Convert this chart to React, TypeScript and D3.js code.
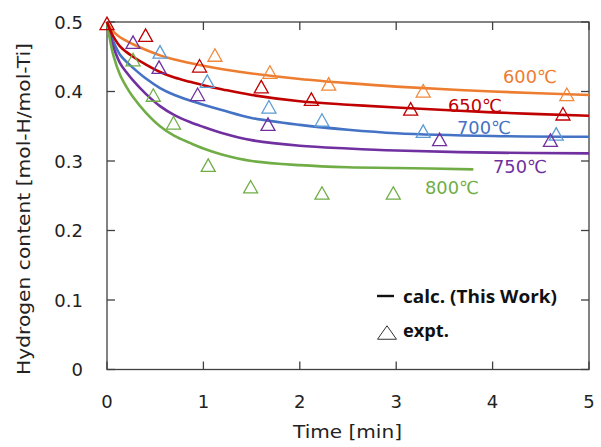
import * as d3 from 'd3';
import { useEffect, useRef } from 'react';

// calculated curves (time in min, hydrogen content)
const calcTime = [0, 0.03, 0.066, 0.135, 0.2, 0.27, 0.4, 0.55, 0.7, 0.86, 1.0, 1.2, 1.5, 2, 2.5, 3, 4, 5];
const calcTime800 = [0, 0.03, 0.066, 0.135, 0.2, 0.27, 0.4, 0.55, 0.7, 0.86, 1.0, 1.2, 1.5, 2, 2.5, 3, 3.8];
const calc600 = [0.5, 0.493, 0.486, 0.478, 0.473, 0.468, 0.46, 0.452, 0.446, 0.441, 0.437, 0.432, 0.426, 0.418, 0.412, 0.407, 0.4, 0.395];
const calc650 = [0.5, 0.489, 0.479, 0.465, 0.457, 0.45, 0.439, 0.428, 0.42, 0.414, 0.409, 0.403, 0.395, 0.386, 0.381, 0.377, 0.37, 0.365];
const calc700 = [0.5, 0.485, 0.472, 0.453, 0.443, 0.434, 0.419, 0.405, 0.395, 0.387, 0.381, 0.373, 0.362, 0.352, 0.345, 0.34, 0.336, 0.335];
const calc750 = [0.5, 0.481, 0.464, 0.441, 0.428, 0.416, 0.397, 0.379, 0.366, 0.356, 0.349, 0.34, 0.33, 0.322, 0.318, 0.315, 0.312, 0.311];
const calc800 = [0.5, 0.475, 0.452, 0.424, 0.407, 0.392, 0.37, 0.35, 0.336, 0.326, 0.318, 0.309, 0.3, 0.294, 0.291, 0.29, 0.288];

// experimental points
const exptTime600 = [1.12, 1.69, 2.3, 3.28, 4.77];
const expt600 = [0.4525, 0.428, 0.411, 0.401, 0.396];
const exptTime650 = [0, 0.4, 0.96, 1.6, 2.12, 3.15, 4.73];
const expt650 = [0.498, 0.481, 0.437, 0.407, 0.389, 0.375, 0.368];
const exptTime700 = [0.55, 1.04, 1.68, 2.23, 3.28, 4.66];
const expt700 = [0.457, 0.415, 0.378, 0.359, 0.343, 0.339];
const exptTime750 = [0.27, 0.54, 0.94, 1.67, 3.45, 4.6];
const expt750 = [0.471, 0.435, 0.396, 0.353, 0.331, 0.33];
const exptTime800 = [0.27, 0.48, 0.69, 1.05, 1.49, 2.23, 2.97];
const expt800 = [0.446, 0.395, 0.355, 0.294, 0.263, 0.254, 0.254];

const xTicks = [0, 1, 2, 3, 4, 5];
const yTicks = [0, 0.1, 0.2, 0.3, 0.4, 0.5];

const series = [
    { name: '600℃', lineColor: '#ED7D31', markColor: '#F0883A', t: calcTime, v: calc600, et: exptTime600, ev: expt600, lx: 503, ly: 83 },
    { name: '700℃', lineColor: '#4472C4', markColor: '#5B9BD5', t: calcTime, v: calc700, et: exptTime700, ev: expt700, lx: 457, ly: 134 },
    { name: '750℃', lineColor: '#7030A0', markColor: '#7030A0', t: calcTime, v: calc750, et: exptTime750, ev: expt750, lx: 493, ly: 173 },
    { name: '800℃', lineColor: '#70AD47', markColor: '#70AD47', t: calcTime800, v: calc800, et: exptTime800, ev: expt800, lx: 425, ly: 194 },
    { name: '650℃', lineColor: '#C00000', markColor: '#C00000', t: calcTime, v: calc650, et: exptTime650, ev: expt650, lx: 448, ly: 112 },
];

const FONT = '"DejaVu Sans", sans-serif';

const App = () => {
    const svgRef = useRef<SVGSVGElement | null>(null);

    useEffect(() => {
        const width = 601;
        const height = 447;
        const svg = d3.select(svgRef.current);
        svg.selectAll('*').remove();
        svg.attr('width', width).attr('height', height);

        const x = d3.scaleLinear().domain([0, 5]).range([107, 589]);
        const y = d3.scaleLinear().domain([0, 0.5]).range([369.5, 22]);
        const axisColor = '#404040';

        // frame
        svg.append('rect')
            .attr('x', x(0)).attr('y', y(0.5))
            .attr('width', x(5) - x(0)).attr('height', y(0) - y(0.5))
            .attr('fill', 'none').attr('stroke', axisColor).attr('stroke-width', 1.3);

        // ticks on all four sides, pointing inward
        const tk = 8;
        xTicks.forEach((t) => {
            svg.append('line').attr('x1', x(t)).attr('x2', x(t)).attr('y1', y(0)).attr('y2', y(0) - tk)
                .attr('stroke', axisColor).attr('stroke-width', 1.3);
            svg.append('line').attr('x1', x(t)).attr('x2', x(t)).attr('y1', y(0.5)).attr('y2', y(0.5) + tk)
                .attr('stroke', axisColor).attr('stroke-width', 1.3);
            svg.append('text').attr('x', x(t)).attr('y', y(0) + 38.5)
                .attr('text-anchor', 'middle').attr('font-family', FONT).attr('font-size', 18).attr('fill', '#222')
                .text(String(t));
        });
        yTicks.forEach((t) => {
            svg.append('line').attr('x1', x(0)).attr('x2', x(0) + tk).attr('y1', y(t)).attr('y2', y(t))
                .attr('stroke', axisColor).attr('stroke-width', 1.3);
            svg.append('line').attr('x1', x(5)).attr('x2', x(5) - tk).attr('y1', y(t)).attr('y2', y(t))
                .attr('stroke', axisColor).attr('stroke-width', 1.3);
            svg.append('text').attr('x', 83).attr('y', y(t) + 6.8)
                .attr('text-anchor', 'end').attr('font-family', FONT).attr('font-size', 18).attr('fill', '#222')
                .text(t === 0 ? '0' : d3.format('.1f')(t));
        });

        // axis titles
        svg.append('text').attr('x', 293).attr('y', 438)
            .attr('font-family', FONT).attr('font-size', 18.5).attr('fill', '#222')
            .attr('textLength', 109).attr('lengthAdjust', 'spacingAndGlyphs')
            .text('Time [min]');
        svg.append('text').attr('transform', 'translate(30,375) rotate(-90)')
            .attr('font-family', FONT).attr('font-size', 17.5).attr('fill', '#222')
            .attr('textLength', 332).attr('lengthAdjust', 'spacingAndGlyphs')
            .text('Hydrogen content [mol-H/mol-Ti]');

        const line = d3.line<[number, number]>()
            .x((d) => x(d[0]))
            .y((d) => y(d[1]))
            .curve(d3.curveCatmullRom.alpha(0.5));

        series.forEach((s) => {
            const pts = s.t.map((t, i) => [t, s.v[i]] as [number, number]);
            svg.append('path').attr('d', line(pts)).attr('fill', 'none')
                .attr('stroke', s.lineColor).attr('stroke-width', 2.6);
        });

        const tri = (cx: number, cy: number, w: number, h: number) =>
            `M${cx - w / 2},${cy + h / 2}L${cx + w / 2},${cy + h / 2}L${cx},${cy - h / 2}Z`;

        series.forEach((s) => {
            svg.append('g').selectAll('path')
                .data(s.et.map((t, i) => [t, s.ev[i]]))
                .enter()
                .append('path')
                .attr('d', (d) => tri(x(d[0]), y(d[1]), 14, 12.5))
                .attr('fill', 'none')
                .attr('stroke', s.markColor)
                .attr('stroke-width', 1.3);
        });

        series.forEach((s) => {
            svg.append('text').attr('x', s.lx).attr('y', s.ly)
                .attr('font-family', FONT).attr('font-size', 18).attr('fill', s.lineColor)
                .attr('textLength', 54).attr('lengthAdjust', 'spacingAndGlyphs')
                .text(s.name);
        });

        // legend
        svg.append('line').attr('x1', 377).attr('x2', 394).attr('y1', 296).attr('y2', 296)
            .attr('stroke', '#111').attr('stroke-width', 2.4);
        svg.append('text').attr('x', 403).attr('y', 303)
            .attr('font-family', '"Open Sans", sans-serif').attr('font-weight', 'bold').attr('font-size', 18).attr('fill', '#111')
            .attr('textLength', 154).attr('lengthAdjust', 'spacingAndGlyphs')
            .text('calc. (This Work)');
        svg.append('path').attr('d', tri(387, 332.5, 19, 13.5)).attr('fill', 'none')
            .attr('stroke', '#333').attr('stroke-width', 1);
        svg.append('text').attr('x', 403).attr('y', 337)
            .attr('font-family', '"Open Sans", sans-serif').attr('font-weight', 'bold').attr('font-size', 18).attr('fill', '#111')
            .attr('textLength', 46).attr('lengthAdjust', 'spacingAndGlyphs')
            .text('expt.');
    }, []);

    return (
        <div style={{ position: 'absolute', left: 0, top: 0 }}>
            <svg ref={svgRef} />
        </div>
    );
};

export default App;
